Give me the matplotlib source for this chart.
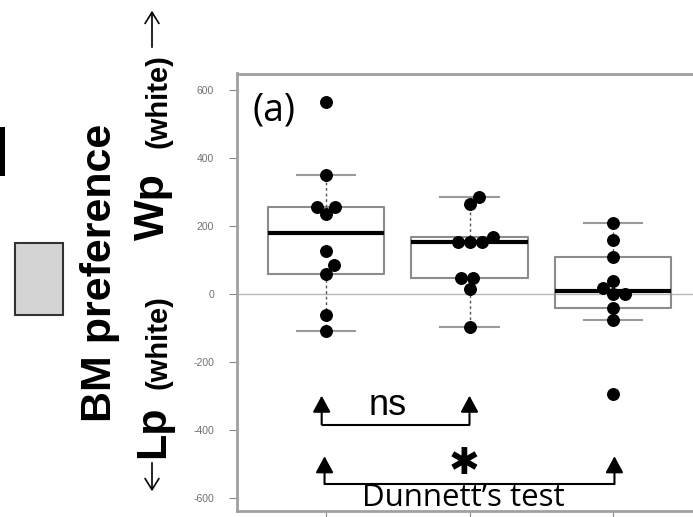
import numpy as np
import matplotlib
matplotlib.use("Agg")
import matplotlib.pyplot as plt
from matplotlib.patches import Rectangle, FancyArrowPatch

plt.rcParams["font.family"] = ["Liberation Sans", "DejaVu Sans"]
plt.rcParams["axes.unicode_minus"] = False

# BM preference per group
groups = [1, 2, 3]
group1 = [563, 350, 257, 257, 234, 127, 85, 58, -62, -109]
group2 = [286, 265, 167, 154, 154, 154, 48, 48, 14, -96]
group3 = [208, 159, 108, 39, 17, 0, 0, -42, -78, -295]
yticks = [-600, -400, -200, 0, 200, 400, 600]

W, H = 693, 517


def fivenum(v):
    x = np.sort(np.asarray(v, float))
    n = len(x)
    n4 = np.floor((n + 3) / 2) / 2
    d = np.array([1, n4, (n + 1) / 2, n + 1 - n4, n])
    return 0.5 * (x[np.floor(d).astype(int) - 1] + x[np.ceil(d).astype(int) - 1])


def box_stats(v):
    lo, q1, med, q3, hi = fivenum(v)
    iqr = q3 - q1
    v = np.asarray(v, float)
    wlo = v[v >= q1 - 1.5 * iqr].min()
    whi = v[v <= q3 + 1.5 * iqr].max()
    return dict(med=med, q1=q1, q3=q3, whislo=wlo, whishi=whi, fliers=[])


def swarm(vals, d, sy):
    # simple beeswarm: offsets in pixels, closest to centre first
    order = np.argsort(vals, kind="stable")
    xs = np.zeros(len(vals))
    placed = []
    for i in order:
        y = vals[i] * sy
        cands = [0.0]
        for px, py in placed:
            dy = abs(y - py)
            if dy < d:
                dx = np.sqrt(d ** 2 - dy ** 2)
                cands += [px + dx, px - dx]
        cands.sort(key=lambda c: (round(abs(c), 6), -c))
        for c in cands:
            if all((c - px) ** 2 + (y - py) ** 2 >= d ** 2 - 1e-6 for px, py in placed):
                xs[i] = c
                break
        placed.append((xs[i], y))
    return xs


def fig_xy(x, y):
    return x / W, 1 - y / H


fig = plt.figure(figsize=(W / 100, H / 100), dpi=100)
left, right, top, bottom = 237, 702, 73.5, 511
ax = fig.add_axes([left / W, 1 - bottom / H, (right - left) / W, (bottom - top) / H])
ax.set_xlim(0.38, 3.62)
ax.set_ylim(-638, 648)

ax.axhline(0, color="#b8b8b8", lw=1, zorder=0)

data = [group1, group2, group3]
ax.bxp([box_stats(g) for g in data], positions=groups, widths=0.81,
       capwidths=0.41, showfliers=False, patch_artist=False,
       boxprops=dict(color="#8c8c8c", lw=1.5),
       whiskerprops=dict(color="#555555", lw=1, linestyle=(0, (2, 2))),
       capprops=dict(color="#9a9a9a", lw=1.5),
       medianprops=dict(color="black", lw=3))

sx = (right - left) / (3.62 - 0.38)
sy = (bottom - top) / (648 + 638)
for pos, g in zip(groups, data):
    off = swarm(np.asarray(g, float), 12, sy)
    ax.plot(pos + off / sx, g, "o", color="black", ms=8.3, zorder=5)

# significance brackets
def bracket(x1, x2, ytip, yline):
    ax.plot([x1, x2], [yline, yline], color="black", lw=1.5, solid_capstyle="butt")
    for x in (x1, x2):
        ax.annotate("", xy=(x, ytip), xytext=(x, yline),
                    arrowprops=dict(arrowstyle="-|>,head_length=0.5,head_width=0.27",
                                    color="black", lw=1.5, mutation_scale=20,
                                    shrinkA=0, shrinkB=0))

bracket(0.97, 2.0, -299, -384)
bracket(0.99, 3.01, -477, -559)
ax.text(1.43, -355, "ns", fontsize=26, ha="center", va="baseline")
ax.text(1.96, -497, "\u2731", fontsize=26.5, family="DejaVu Sans", ha="center", va="center")
ax.text(1.955, -624, "Dunnett\u2019s test", fontsize=22.5, family="Open Sans",
        ha="center", va="baseline")
ax.text(274 / W, 1 - 110 / H, "(a)", fontsize=27, family="Open Sans", ha="center",
        va="center", transform=fig.transFigure)

ax.set_yticks(yticks)
ax.set_xticks(groups)
ax.set_xticklabels([])
ax.tick_params(axis="y", labelsize=7.5, labelcolor="#707070", color="#888888",
               length=5.5, width=0.8, pad=11)
ax.tick_params(axis="x", color="#888888", length=5.5, width=0.8)
for s in ax.spines.values():
    s.set_color("#a0a0a0")
    s.set_linewidth(2)

# axis title pieces, rotated
def vtext(x, y, s, size, weight):
    fx, fy = fig_xy(x, y)
    fig.text(fx, fy, s, rotation=90, rotation_mode="anchor", ha="left", va="baseline",
             fontsize=size, fontweight=weight)

vtext(111, 422, "BM preference", 31, "bold")
vtext(164, 240, "Wp", 31, "bold")
vtext(166, 148, "(white)", 21, "bold")
vtext(164, 458, "Lp", 31, "bold")
vtext(166, 389, "(white)", 21, "bold")

for a, b in [((152, 50), (152, 8)), ((152, 460), (152, 494))]:
    fig.add_artist(FancyArrowPatch(fig_xy(*a), fig_xy(*b), transform=fig.transFigure,
                                   arrowstyle="->,head_length=0.4,head_width=0.25",
                                   mutation_scale=20, lw=1.2, color="black"))

# legend swatch and cut-off mark at the left edge
fig.add_artist(Rectangle(fig_xy(15, 315), 48 / W, 72 / H, transform=fig.transFigure,
                         facecolor="#d4d4d4", edgecolor="#333333", lw=1.5))
fig.add_artist(Rectangle(fig_xy(0, 176), 5 / W, 49 / H, transform=fig.transFigure,
                         facecolor="black", edgecolor="none"))

fig.savefig("out.png", dpi=100)
plt.close(fig)
